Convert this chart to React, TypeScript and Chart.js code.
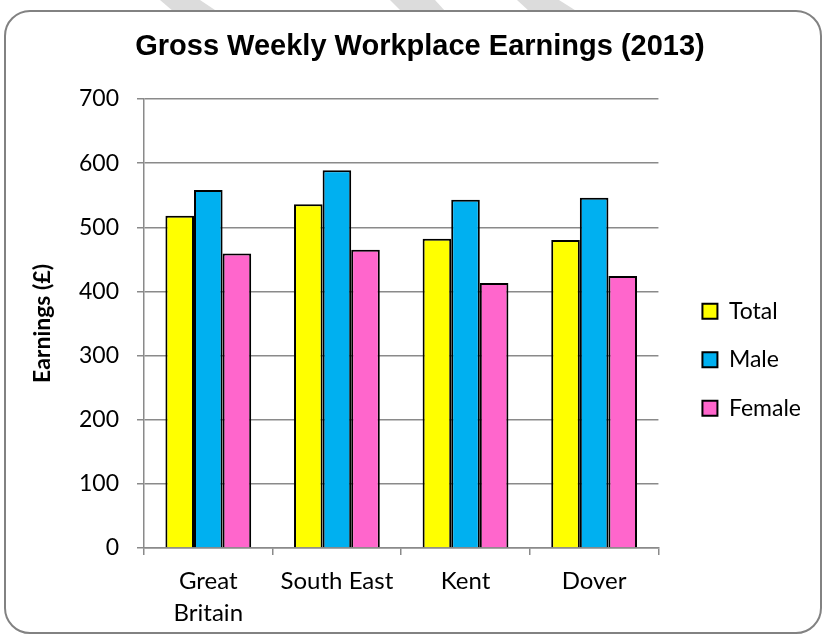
import React, { useEffect, useRef } from "react";
import { Chart, registerables } from "chart.js";

Chart.register(...registerables);

const categories: (string | string[])[] = [["Great", "Britain"], "South East", "Kent", "Dover"];
const seriesNames = ["Total", "Male", "Female"];
const totalValues = [518, 536, 482, 480];
const maleValues = [558, 589, 543, 546];
const femaleValues = [459, 465, 413, 424];
const yMin = 0;
const yMax = 700;
const yStep = 100;
const titleText = "Gross Weekly Workplace Earnings (2013)";
const yAxisTitle = "Earnings (£)";

const colors = ["#FFFF00", "#00B0F0", "#FF66CC"];
const GRID = "#8a8a8a";
const TICK_FONT = "Lato, 'Open Sans', sans-serif";

export default function App() {
  const ref = useRef<HTMLCanvasElement | null>(null);

  useEffect(() => {
    if (!ref.current) return;
    const values = [totalValues, maleValues, femaleValues];
    const chart = new Chart(ref.current, {
      type: "bar",
      data: {
        labels: categories,
        datasets: seriesNames.map((name, i) => ({
          label: name,
          data: values[i],
          backgroundColor: colors[i],
          borderColor: "#000000",
          borderWidth: 2,
          barPercentage: 1,
          categoryPercentage: 0.667,
        })),
      },
      options: {
        animation: false,
        responsive: true,
        maintainAspectRatio: false,
        layout: { padding: { left: 29, right: 14, top: 0, bottom: 0 } },
        plugins: {
          tooltip: { enabled: false },
          title: {
            display: true,
            text: titleText,
            color: "#000000",
            font: { family: "'Liberation Sans', Arial, sans-serif", size: 29, weight: "bold", lineHeight: 1.2 },
            padding: { top: 30, bottom: 34.2 },
          },
          legend: {
            display: true,
            position: "right",
            title: {
              display: true,
              text: " ",
              font: { size: 12, lineHeight: 1 },
              padding: { top: 52, bottom: 0 },
            },
            labels: {
              boxWidth: 15,
              boxHeight: 15,
              padding: 44,
              color: "#000000",
              font: { family: TICK_FONT, size: 23, lineHeight: "4.5px" },
              generateLabels: (c: any) => {
                const items = Chart.defaults.plugins.legend.labels.generateLabels(c);
                return items.map((it: any) => ({ ...it, text: [it.text], lineWidth: 2 }));
              },
            },
          },
        },
        scales: {
          x: {
            offset: true,
            grid: {
              display: true,
              drawOnChartArea: false,
              drawTicks: true,
              tickLength: 7,
              color: GRID,
              lineWidth: 1.5,
              offset: true,
            },
            border: { display: true, color: GRID, width: 1.5 },
            ticks: {
              color: "#000000",
              padding: 11,
              font: { family: TICK_FONT, size: 24, lineHeight: 1.3 },
              maxRotation: 0,
              autoSkip: false,
            },
            afterFit: (scale: any) => {
              scale.height = 89;
            },
          },
          y: {
            min: yMin,
            max: yMax,
            grid: {
              display: true,
              drawTicks: true,
              tickLength: 7,
              color: GRID,
              lineWidth: 1.5,
            },
            border: { display: true, color: GRID, width: 1.5 },
            ticks: {
              stepSize: yStep,
              color: "#000000",
              padding: 18,
              font: { family: TICK_FONT, size: 23 },
            },
            title: {
              display: true,
              text: yAxisTitle,
              color: "#000000",
              font: { family: TICK_FONT, size: 23, weight: "bold", lineHeight: 1.2 },
              padding: { top: 0, bottom: 0 },
            },
            afterFit: (scale: any) => {
              scale.width = 115;
            },
          },
        },
      },
    });
    return () => chart.destroy();
  }, []);

  const stripe = (pts: string) => (
    <div
      style={{
        position: "absolute",
        left: 0,
        top: 0,
        width: 825,
        height: 12,
        background: "#dcdcdc",
        clipPath: `polygon(${pts})`,
      }}
    />
  );

  return (
    <div style={{ position: "fixed", left: 0, top: 0, width: 825, height: 637, background: "#ffffff", overflow: "hidden" }}>
      {stripe("160px 0, 200px 0, 218px 12px, 174px 12px")}
      {stripe("390px 0, 435px 0, 446px 12px, 402px 12px")}
      {stripe("517px 0, 559px 0, 578px 12px, 530px 12px")}
      <div
        style={{
          position: "absolute",
          left: 4,
          top: 10,
          width: 818,
          height: 624,
          border: "2px solid #828282",
          borderRadius: 26,
          background: "#ffffff",
          boxSizing: "border-box",
        }}
      />
      <div style={{ position: "absolute", left: 0, top: 0, width: 825, height: 637 }}>
        <canvas ref={ref} />
      </div>
    </div>
  );
}
